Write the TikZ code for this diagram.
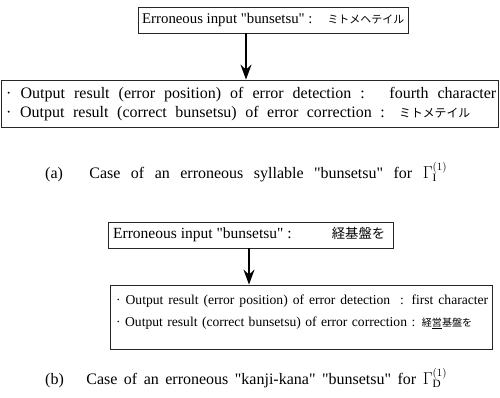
\documentclass[tikz,border=0pt]{standalone}
\usepackage{fontspec}
\setmainfont{Liberation Serif}[Ligatures=TeXOff]
\newfontfamily\jp[Scale=0.74]{Noto Sans CJK JP}
\newfontfamily\jpL[Scale=0.86]{Noto Sans CJK JP}
\usetikzlibrary{arrows.meta}
\newcommand\dq{\symbol{34}}
\newcommand\spr[2]{\makebox[#1pt][s]{#2}}
\begin{document}
\begin{tikzpicture}[x=1pt,y=1pt,
  box/.style={draw=black!85, line width=0.8pt, inner sep=0pt},
  txt/.style={inner sep=0pt, anchor=west, font=\fontsize{15.5}{17}\selectfont},
  toptxt/.style={inner sep=0pt, anchor=west, font=\fontsize{14.8}{17}\selectfont},
  bigtxt/.style={inner sep=0pt, anchor=west, font=\fontsize{16}{18}\selectfont},
  smalltxt/.style={inner sep=0pt, anchor=west, font=\fontsize{13.6}{16}\selectfont},
  captxt/.style={inner sep=0pt, anchor=west, font=\fontsize{16}{18}\selectfont},
  flow/.style={line width=2pt, -{Stealth[length=15pt,width=11pt,inset=5pt]}}
]
\useasboundingbox (0,0) rectangle (500,397);
% (a)
\node[box, minimum width=270, minimum height=26] (in1) at (273,377) {};
\node[toptxt] (in1t) at (142,377) {\makebox[262pt][l]{Erroneous input \dq bunsetsu\dq{} :\ \hfill{\jp ミトメヘテイル}}};
\node[box, minimum width=497, minimum height=47] (out1) at (250,293.5) {};
\node[bigtxt] (out1a) at (6,302) {\spr{490}{· Output result (error position) of error detection : \ fourth character}};
\node[bigtxt] (out1b) at (6,283) {\spr{464}{· Output result (correct bunsetsu) of error correction : {\jp ミトメテイル}}};
\coordinate (ax1) at (246,0);
\draw[flow] (in1.south -| ax1) -- (out1.north -| ax1);
\node[captxt] (capa) at (45,225) {\spr{402}{(a)\quad\ Case of an erroneous syllable \dq bunsetsu\dq{} for $\Gamma_{\mathrm{I}}^{(1)}$}};
% (b)
\node[box, minimum width=285, minimum height=26] (in2) at (251,162) {};
\node[txt] (in2t) at (113,162) {\makebox[272pt][l]{Erroneous input \dq bunsetsu\dq{} :\hfill{\jpL 経基盤を}}};
\node[box, minimum width=382, minimum height=64] (out2) at (301,80) {};
\node[smalltxt] (out2a) at (116,96) {\spr{372}{· Output result (error position) of error detection \ : first character}};
\node[smalltxt] (out2b) at (116,74) {\spr{356}{· Output result (correct bunsetsu) of error correction : {\jp 経\underline{営}基盤を}}};
\coordinate (ax2) at (249,0);
\draw[flow] (in2.south -| ax2) -- (out2.north -| ax2);
\node[captxt] (capb) at (45,19) {\spr{402}{(b)\quad\ Case of an erroneous \dq kanji-kana\dq{} \dq bunsetsu\dq{} for $\Gamma_{\mathrm{D}}^{(1)}$}};
\end{tikzpicture}
\end{document}
